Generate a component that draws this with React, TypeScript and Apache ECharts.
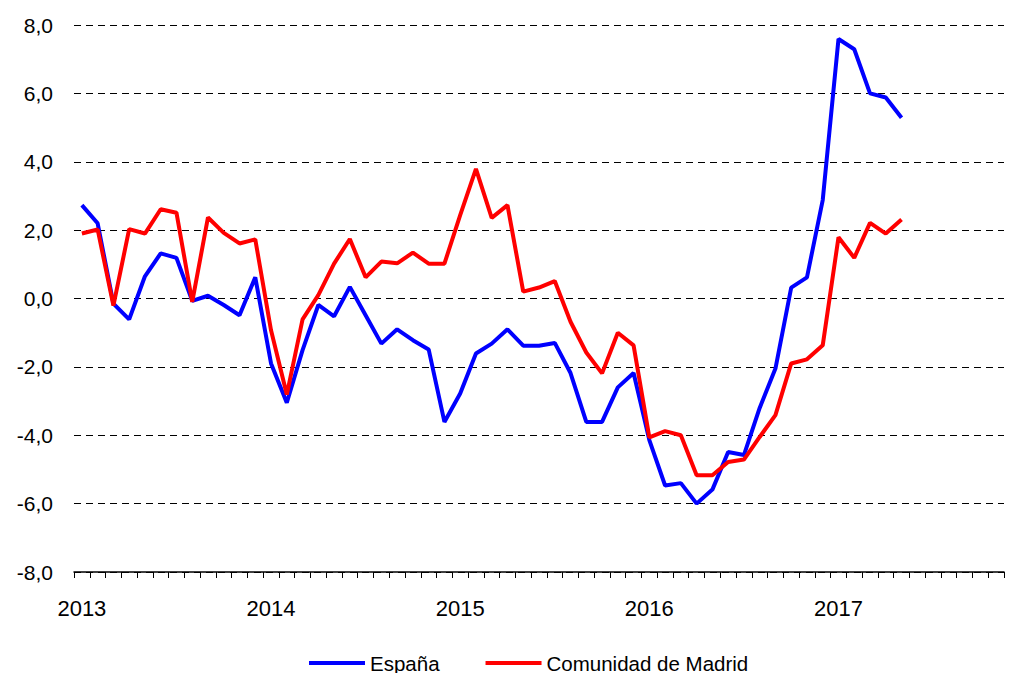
import React, { useEffect, useRef } from "react";
import * as echarts from "echarts";

const startYear = 2013;
const monthCount = 59;
const months: string[] = [];
for (let i = 0; i < monthCount; i++) {
  const y = startYear + Math.floor(i / 12);
  const m = (i % 12) + 1;
  months.push(`${y}-${m < 10 ? "0" + m : m}`);
}

const espana = [
  2.73, 2.2, -0.15, -0.61, 0.65, 1.32, 1.19, -0.07, 0.08, -0.19, -0.49, 0.62,
  -1.9, -3.05, -1.51, -0.19, -0.52, 0.34, -0.49, -1.32, -0.9, -1.22, -1.49, -3.61,
  -2.78, -1.61, -1.32, -0.9, -1.38, -1.38, -1.3, -2.18, -3.61, -3.61, -2.6, -2.18,
  -4.14, -5.47, -5.4, -6.0, -5.59, -4.49, -4.58, -3.2, -2.05, 0.32, 0.62, 2.88,
  7.59, 7.29, 6.0, 5.88, 5.29,
];

const madrid = [
  1.9, 2.02, -0.21, 2.03, 1.9, 2.61, 2.51, -0.1, 2.37, 1.92, 1.61, 1.73,
  -0.93, -2.81, -0.61, 0.1, 1.02, 1.74, 0.62, 1.08, 1.03, 1.34, 1.02, 1.02,
  2.44, 3.79, 2.36, 2.73, 0.2, 0.32, 0.51, -0.68, -1.58, -2.19, -1.0, -1.37,
  -4.06, -3.88, -4.0, -5.17, -5.17, -4.78, -4.71, -4.05, -3.41, -1.9, -1.78, -1.37,
  1.79, 1.19, 2.21, 1.9, 2.31,
];

const seriesNames = ["España", "Comunidad de Madrid"];
const FONT = "'Liberation Sans', Arial, sans-serif";

export default function App() {
  const ref = useRef<HTMLDivElement>(null);
  useEffect(() => {
    if (!ref.current) return;
    const chart = echarts.init(ref.current, undefined, { renderer: "svg" });
    chart.setOption({
      animation: false,
      backgroundColor: "#ffffff",
      grid: { left: 74, right: 5, top: 25, bottom: 101, containLabel: false },
      legend: {
        left: 309,
        top: 652,
        padding: 0,
        icon: "rect",
        itemWidth: 56,
        itemHeight: 4,
        itemGap: 46,
        textStyle: { fontFamily: FONT, fontSize: 20.5, color: "#000", lineHeight: 22 },
        data: seriesNames,
      },
      xAxis: {
        type: "category",
        data: months,
        boundaryGap: true,
        axisLine: { show: true, onZero: false, lineStyle: { color: "#000", width: 1.5 } },
        axisTick: { show: true, interval: 0, length: 6, lineStyle: { color: "#000", width: 1 } },
        axisLabel: {
          interval: (index: number) => index % 12 === 0,
          formatter: (v: string) => v.slice(0, 4),
          fontFamily: FONT,
          fontSize: 22,
          color: "#000",
          margin: 25,
        },
        splitLine: { show: false },
      },
      yAxis: {
        type: "value",
        min: -8,
        max: 8,
        interval: 2,
        axisLine: { show: false },
        axisTick: { show: false },
        axisLabel: {
          formatter: (v: number) => v.toFixed(1).replace(".", ","),
          fontFamily: FONT,
          fontSize: 21,
          color: "#000",
          margin: 21,
        },
        splitLine: { show: true, lineStyle: { color: "#000", width: 1, type: [7, 5] } },
      },
      series: [
        {
          name: seriesNames[0],
          type: "line",
          data: espana,
          symbol: "none",
          lineStyle: { color: "#0000ff", width: 4 },
          itemStyle: { color: "#0000ff" },
        },
        {
          name: seriesNames[1],
          type: "line",
          data: madrid,
          symbol: "none",
          lineStyle: { color: "#ff0000", width: 4 },
          itemStyle: { color: "#ff0000" },
        },
      ],
    });
    return () => chart.dispose();
  }, []);
  return (
    <div
      ref={ref}
      style={{ position: "absolute", left: 0, top: 0, width: 1009, height: 673 }}
    />
  );
}
